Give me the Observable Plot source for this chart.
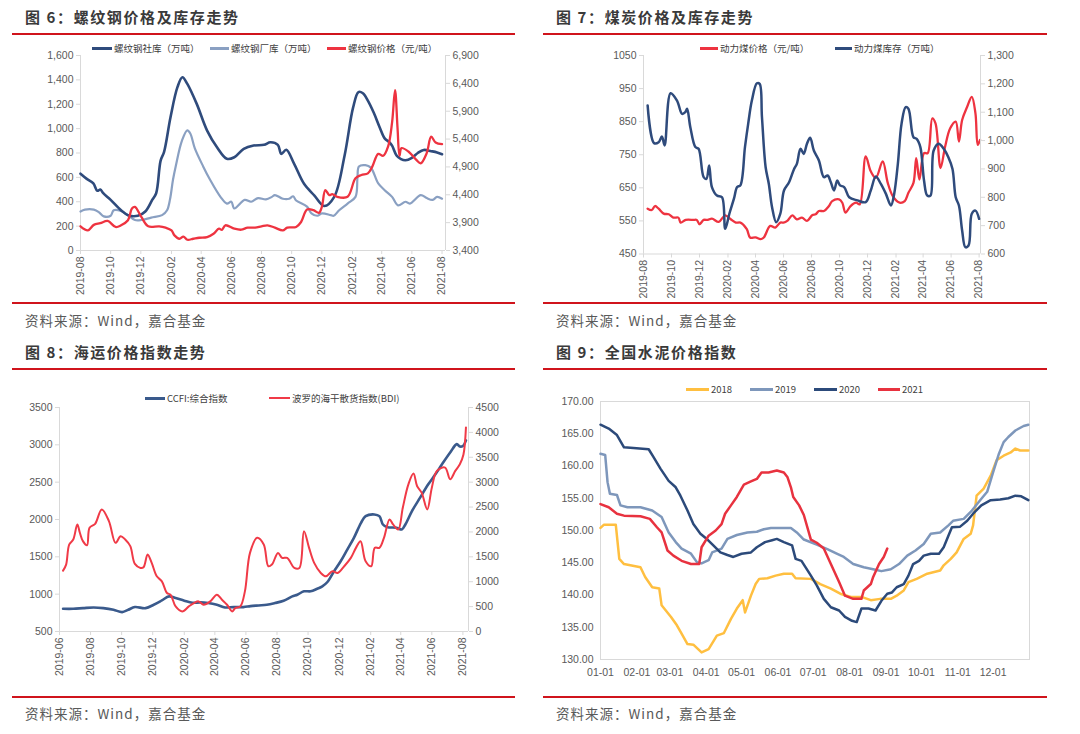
<!DOCTYPE html>
<html><head><meta charset="utf-8">
<script src="https://cdn.jsdelivr.net/npm/d3@7"></script>
<script src="https://cdn.jsdelivr.net/npm/@observablehq/plot@0.6"></script>
<style>
body{margin:0;background:#fff;font-family:"Noto Sans CJK SC","Noto Sans",sans-serif;}
#root{position:relative;width:1080px;height:734px;overflow:hidden;background:#fff}
.title{position:absolute;font-size:15px;font-weight:bold;color:#3a3a3a;letter-spacing:1.6px;white-space:nowrap;line-height:20px}
.rule{position:absolute;height:2px;background:#d0141c}
.source{position:absolute;font-size:13.5px;color:#595959;letter-spacing:1px;white-space:nowrap;line-height:20px}
.lg-sw{position:absolute;height:3px}
.lg-tx{position:absolute;font-size:9.5px;color:#404040;white-space:nowrap;line-height:14px}
.chart{position:absolute}
.chart svg{position:absolute;left:0;top:0;overflow:visible}
</style></head>
<body><div id="root"></div>
<script>
// ---------- Panel 6: rebar ----------
const p1Title = "图 6：螺纹钢价格及库存走势";
const p1Legend = ["螺纹钢社库（万吨）","螺纹钢厂库（万吨）","螺纹钢价格（元/吨）"];
const p1XTicks = ["2019-08","2019-10","2019-12","2020-02","2020-04","2020-06","2020-08","2020-10","2020-12","2021-02","2021-04","2021-06","2021-08"];
const p1LeftTicks = [0,200,400,600,800,1000,1200,1400,1600];
const p1RightTicks = [3400,3900,4400,4900,5400,5900,6400,6900];
const rebarSocial = [["2019-08-01",630],["2019-08-13",590],["2019-08-27",550],["2019-09-04",490],["2019-09-10",500],["2019-09-16",470],["2019-10-01",415],["2019-10-22",330],["2019-11-05",290],["2019-11-25",285],["2019-12-10",320],["2019-12-24",415],["2020-01-01",470],["2020-01-10",738],["2020-01-17",810],["2020-01-30",1094],["2020-02-13",1340],["2020-02-23",1422],["2020-03-04",1367],["2020-03-23",1203],["2020-04-13",984],["2020-05-03",847],["2020-05-23",752],["2020-06-07",765],["2020-06-26",834],["2020-07-16",861],["2020-08-06",867],["2020-08-19",888],["2020-09-03",867],["2020-09-10",793],["2020-09-20",826],["2020-10-06",711],["2020-10-26",547],["2020-11-16",451],["2020-12-06",365],["2020-12-26",440],["2021-01-16",780],["2021-02-02",1170],["2021-02-13",1300],["2021-02-22",1290],["2021-03-04",1230],["2021-03-16",1130],["2021-03-28",1010],["2021-04-07",920],["2021-04-16",890],["2021-04-22",860],["2021-05-01",780],["2021-05-10",750],["2021-05-19",740],["2021-06-01",760],["2021-06-13",800],["2021-06-25",825],["2021-07-10",815],["2021-07-22",805],["2021-08-01",790]];
const rebarFactory = [["2019-08-01",320],["2019-08-10",335],["2019-08-28",335],["2019-09-07",315],["2019-09-17",280],["2019-10-01",285],["2019-10-07",330],["2019-10-22",325],["2019-11-05",290],["2019-11-19",250],["2019-12-02",250],["2019-12-22",270],["2020-01-13",290],["2020-01-23",330],["2020-01-29",420],["2020-02-04",580],["2020-02-10",700],["2020-02-22",900],["2020-03-04",985],["2020-03-10",960],["2020-03-19",840],["2020-04-05",690],["2020-04-19",580],["2020-05-10",440],["2020-05-23",385],["2020-06-01",400],["2020-06-07",345],["2020-06-28",415],["2020-07-11",400],["2020-07-25",430],["2020-08-10",420],["2020-08-22",440],["2020-08-28",455],["2020-09-13",425],["2020-09-26",425],["2020-10-04",445],["2020-10-10",410],["2020-11-01",360],["2020-11-10",305],["2020-11-22",285],["2020-12-01",305],["2020-12-19",290],["2020-12-25",285],["2021-01-05",330],["2021-01-22",385],["2021-02-07",440],["2021-02-11",600],["2021-02-14",690],["2021-02-27",700],["2021-03-10",680],["2021-03-25",550],["2021-04-07",495],["2021-04-22",440],["2021-05-04",370],["2021-05-19",400],["2021-05-28",385],["2021-06-19",455],["2021-07-01",430],["2021-07-13",415],["2021-07-22",440],["2021-08-01",425]];
const rebarPrice = [["2019-08-01",3834],["2019-08-16",3761],["2019-08-28",3860],["2019-09-10",3890],["2019-09-25",3930],["2019-10-11",3822],["2019-10-22",3852],["2019-11-05",3942],["2019-11-13",4153],["2019-11-19",4183],["2019-12-02",4002],["2019-12-16",3834],["2020-01-07",3834],["2020-01-20",3810],["2020-02-01",3761],["2020-02-07",3671],["2020-02-17",3611],["2020-02-25",3650],["2020-03-04",3593],["2020-03-16",3611],["2020-03-28",3629],["2020-04-13",3641],["2020-04-26",3701],["2020-05-07",3792],["2020-05-13",3770],["2020-05-20",3852],["2020-06-07",3792],["2020-06-21",3773],["2020-07-04",3810],["2020-07-19",3810],["2020-08-01",3834],["2020-08-13",3852],["2020-08-28",3810],["2020-09-13",3761],["2020-09-22",3810],["2020-10-10",3822],["2020-10-20",3912],["2020-11-01",4135],["2020-11-14",4123],["2020-11-25",4075],["2020-12-01",4183],["2020-12-08",4484],["2020-12-16",4394],["2020-12-22",4412],["2021-01-01",4364],["2021-01-22",4364],["2021-02-07",4695],["2021-02-19",4755],["2021-03-04",4785],["2021-03-13",4906],["2021-03-25",5135],["2021-04-04",5100],["2021-04-14",5268],["2021-04-22",5700],["2021-04-28",6278],["2021-05-03",5600],["2021-05-07",5100],["2021-05-11",5238],["2021-05-25",5177],["2021-06-10",5026],["2021-06-19",4966],["2021-07-01",5147],["2021-07-10",5442],["2021-07-19",5340],["2021-08-01",5310]];

// ---------- Panel 7: coal ----------
const p2Title = "图 7：煤炭价格及库存走势";
const p2Legend = ["动力煤价格（元/吨）","动力煤库存（万吨）"];
const p2XTicks = p1XTicks;
const p2LeftTicks = [450,550,650,750,850,950,1050];
const p2RightTicks = [600,700,800,900,1000,1100,1200,1300];
const coalPrice = [["2019-08-10",587],["2019-08-19",583],["2019-08-26",595],["2019-09-03",587],["2019-09-14",572],["2019-09-25",570],["2019-10-05",560],["2019-10-16",560],["2019-10-21",545],["2019-11-01",553],["2019-11-18",553],["2019-11-25",553],["2019-12-01",540],["2019-12-10",553],["2019-12-19",553],["2019-12-28",557],["2020-01-12",547],["2020-01-26",567],["2020-02-07",555],["2020-02-18",545],["2020-02-28",545],["2020-03-13",525],["2020-03-20",500],["2020-04-01",500],["2020-04-12",495],["2020-04-19",500],["2020-05-03",535],["2020-05-14",530],["2020-05-25",545],["2020-06-01",545],["2020-06-09",550],["2020-06-20",567],["2020-06-30",555],["2020-07-11",560],["2020-07-22",550],["2020-08-03",568],["2020-08-10",570],["2020-08-17",580],["2020-08-28",580],["2020-09-08",595],["2020-09-15",610],["2020-09-30",615],["2020-10-07",605],["2020-10-14",575],["2020-10-25",595],["2020-11-06",605],["2020-11-14",600],["2020-11-27",745],["2020-12-08",700],["2020-12-19",680],["2021-01-03",730],["2021-01-14",665],["2021-01-25",625],["2021-02-09",605],["2021-02-20",610],["2021-02-28",635],["2021-03-11",665],["2021-03-17",740],["2021-03-24",675],["2021-04-03",755],["2021-04-11",755],["2021-04-21",860],["2021-04-28",845],["2021-05-09",710],["2021-05-19",775],["2021-05-30",830],["2021-06-11",850],["2021-06-18",790],["2021-06-25",855],["2021-07-06",895],["2021-07-16",925],["2021-07-24",875],["2021-07-29",780],["2021-08-03",795]];
const coalStock = [["2019-08-10",1124],["2019-08-24",991],["2019-09-03",994],["2019-09-10",1014],["2019-09-16",983],["2019-09-29",1167],["2019-10-13",1141],["2019-10-24",1094],["2019-10-31",1100],["2019-11-04",1112],["2019-11-11",1047],["2019-11-22",977],["2019-11-29",971],["2019-12-10",871],["2019-12-16",865],["2019-12-22",912],["2019-12-28",836],["2020-01-08",806],["2020-01-19",800],["2020-01-26",689],["2020-02-04",742],["2020-02-14",795],["2020-02-21",836],["2020-02-28",842],["2020-03-09",977],["2020-03-16",1059],["2020-03-24",1141],["2020-04-04",1202],["2020-04-10",1200],["2020-04-15",1083],["2020-04-23",906],["2020-04-30",847],["2020-05-07",765],["2020-05-16",712],["2020-05-25",742],["2020-06-02",824],["2020-06-13",853],["2020-06-24",900],["2020-06-30",918],["2020-07-08",971],["2020-07-15",953],["2020-07-22",989],["2020-07-29",1010],["2020-08-06",965],["2020-08-17",930],["2020-08-28",871],["2020-09-05",877],["2020-09-12",853],["2020-09-19",824],["2020-09-26",859],["2020-10-02",842],["2020-10-11",836],["2020-10-22",800],["2020-11-09",789],["2020-11-27",783],["2020-12-08",824],["2020-12-19",873],["2020-12-30",847],["2021-01-10",812],["2021-01-21",771],["2021-01-28",812],["2021-02-05",918],["2021-02-13",1059],["2021-02-22",1118],["2021-02-28",1112],["2021-03-11",1012],["2021-03-18",1006],["2021-03-26",977],["2021-04-03",859],["2021-04-10",806],["2021-04-17",806],["2021-04-24",965],["2021-05-05",989],["2021-05-16",971],["2021-05-26",941],["2021-06-04",900],["2021-06-11",800],["2021-06-18",771],["2021-06-25",683],["2021-07-02",624],["2021-07-09",630],["2021-07-16",742],["2021-07-24",753],["2021-08-01",724]];

// ---------- Panel 8: shipping ----------
const p3Title = "图 8：海运价格指数走势";
const p3Legend = ["CCFI:综合指数","波罗的海干散货指数(BDI)"];
const p3XTicks = ["2019-06","2019-08","2019-10","2019-12","2020-02","2020-04","2020-06","2020-08","2020-10","2020-12","2021-02","2021-04","2021-06","2021-08"];
const p3LeftTicks = [500,1000,1500,2000,2500,3000,3500];
const p3RightTicks = [0,500,1000,1500,2000,2500,3000,3500,4000,4500];
const ccfi = [["2019-06-08",804],["2019-06-28",804],["2019-07-17",813],["2019-08-07",822],["2019-08-26",813],["2019-09-15",791],["2019-10-02",760],["2019-10-14",791],["2019-10-27",827],["2019-11-17",813],["2019-12-03",858],["2019-12-19",916],["2020-01-02",970],["2020-01-15",948],["2020-02-01",912],["2020-02-17",885],["2020-03-03",890],["2020-03-19",881],["2020-04-05",858],["2020-04-21",822],["2020-05-08",827],["2020-05-27",827],["2020-06-10",840],["2020-06-26",849],["2020-07-12",858],["2020-07-28",881],["2020-08-14",912],["2020-08-31",970],["2020-09-10",993],["2020-09-23",1038],["2020-10-06",1038],["2020-10-19",1073],["2020-10-29",1105],["2020-11-08",1163],["2020-11-21",1306],["2020-12-04",1441],["2020-12-17",1597],["2020-12-30",1754],["2021-01-13",1956],["2021-01-22",2045],["2021-02-08",2068],["2021-02-18",2045],["2021-02-25",1933],["2021-03-05",1898],["2021-03-24",1889],["2021-04-03",1866],["2021-04-10",1933],["2021-04-23",2113],["2021-05-09",2292],["2021-05-25",2471],["2021-06-08",2605],["2021-06-21",2740],["2021-07-07",2897],["2021-07-20",3009],["2021-07-26",2977],["2021-08-01",2985],["2021-08-07",3060]];
const bdi = [["2019-06-08",1223],["2019-06-14",1344],["2019-06-20",1747],["2019-06-28",1848],["2019-07-06",2151],["2019-07-11",1983],["2019-07-17",1815],["2019-07-25",1734],["2019-07-30",2084],["2019-08-10",2164],["2019-08-23",2453],["2019-09-06",2218],["2019-09-19",1781],["2019-09-29",1915],["2019-10-08",1848],["2019-10-18",1714],["2019-10-27",1358],["2019-11-07",1277],["2019-11-13",1290],["2019-11-21",1546],["2019-11-29",1378],["2019-12-09",1109],["2019-12-19",1008],["2019-12-29",773],["2020-01-05",739],["2020-01-15",504],["2020-01-28",403],["2020-02-10",504],["2020-02-20",571],["2020-02-29",605],["2020-03-10",538],["2020-03-23",605],["2020-04-05",739],["2020-04-15",638],["2020-04-25",538],["2020-05-05",403],["2020-05-11",470],["2020-05-21",504],["2020-05-30",806],["2020-06-09",1579],["2020-06-23",1882],["2020-07-06",1747],["2020-07-15",1311],["2020-07-22",1344],["2020-08-03",1579],["2020-08-11",1479],["2020-08-21",1479],["2020-09-04",1277],["2020-09-14",1277],["2020-09-23",2016],["2020-10-03",1680],["2020-10-13",1378],["2020-10-26",1176],["2020-11-05",1109],["2020-11-18",1210],["2020-11-28",1176],["2020-12-11",1311],["2020-12-24",1479],["2021-01-03",1680],["2021-01-12",1815],["2021-01-22",1411],["2021-02-02",1311],["2021-02-09",1680],["2021-02-18",1680],["2021-02-27",1882],["2021-03-10",2251],["2021-03-17",2151],["2021-03-27",2050],["2021-04-05",2487],["2021-04-16",2957],["2021-04-26",3172],["2021-05-03",2923],["2021-05-12",2789],["2021-05-23",2453],["2021-06-01",2890],["2021-06-11",3226],["2021-06-27",3293],["2021-07-07",3058],["2021-07-17",3226],["2021-07-26",3360],["2021-08-02",3550],["2021-08-07",4100]];

// ---------- Panel 9: cement (MM-DD) ----------
const p4Title = "图 9：全国水泥价格指数";
const p4Years = ["2018","2019","2020","2021"];
const p4XTicks = ["01-01","02-01","03-01","04-01","05-01","06-01","07-01","08-01","09-01","10-01","11-01","12-01"];
const p4YTicks = [130,135,140,145,150,155,160,165,170];
const cement2018 = [["01-01",150.4],["01-04",150.9],["01-14",150.9],["01-17",145.6],["01-21",144.8],["02-04",144.3],["02-08",142.8],["02-14",141.2],["02-20",141.0],["02-22",138.4],["03-02",136.6],["03-07",135.3],["03-11",134.0],["03-16",132.4],["03-21",132.3],["03-28",131.1],["04-03",131.6],["04-10",133.7],["04-16",134.1],["04-22",136.3],["04-27",137.9],["05-02",139.2],["05-04",137.3],["05-09",139.9],["05-13",141.7],["05-16",142.5],["05-23",142.6],["05-30",143.0],["06-06",143.3],["06-13",143.3],["06-16",142.6],["06-29",142.5],["07-07",141.7],["07-16",141.0],["07-24",140.2],["08-02",139.7],["08-11",139.7],["08-19",139.2],["08-27",139.4],["09-05",139.4],["09-10",139.9],["09-16",140.7],["09-20",142.0],["09-27",142.5],["10-06",143.3],["10-17",143.8],["10-20",144.6],["10-26",145.6],["10-31",146.6],["11-06",148.7],["11-12",149.5],["11-14",150.8],["11-17",155.4],["11-23",156.5],["11-29",158.5],["12-04",160.9],["12-10",161.6],["12-16",162.1],["12-20",162.7],["12-24",162.4],["12-31",162.4]];
const cement2019 = [["01-01",161.9],["01-05",161.7],["01-07",157.5],["01-09",155.7],["01-15",155.5],["01-18",153.9],["01-24",153.6],["02-04",153.6],["02-14",153.1],["02-18",152.6],["02-22",152.1],["02-28",149.7],["03-06",148.2],["03-11",147.2],["03-19",146.4],["03-24",145.1],["03-28",144.9],["04-03",145.4],["04-06",146.6],["04-14",147.2],["04-19",148.7],["04-27",149.3],["05-06",149.7],["05-14",149.8],["05-20",150.2],["05-26",150.4],["06-03",150.4],["06-12",150.4],["06-17",149.7],["06-23",148.6],["07-04",147.8],["07-13",147.1],["07-21",146.4],["07-27",145.9],["08-04",144.8],["08-13",144.3],["08-21",144.0],["08-28",143.7],["09-05",144.0],["09-12",144.8],["09-19",146.1],["09-26",146.9],["10-03",147.9],["10-09",149.5],["10-17",149.7],["10-24",150.8],["10-28",151.5],["11-06",151.8],["11-13",153.1],["11-20",154.7],["11-26",156.0],["12-01",159.0],["12-06",161.9],["12-10",163.7],["12-14",164.5],["12-20",165.5],["12-27",166.2],["12-31",166.4]];
const cement2020 = [["01-01",166.4],["01-08",165.8],["01-15",164.8],["01-21",162.9],["01-29",162.8],["02-11",162.6],["02-15",161.4],["02-21",159.6],["02-28",157.7],["03-06",156.7],["03-10",155.4],["03-16",153.1],["03-21",151.0],["03-27",149.5],["04-02",148.6],["04-07",147.7],["04-13",146.6],["04-19",146.2],["04-24",145.9],["05-01",146.4],["05-09",146.6],["05-14",147.4],["05-21",148.2],["05-27",148.5],["05-31",148.7],["06-06",148.2],["06-13",147.7],["06-16",145.6],["06-21",145.3],["06-29",143.0],["07-04",141.5],["07-10",139.4],["07-16",138.1],["07-23",137.6],["07-28",136.6],["08-03",136.0],["08-07",135.8],["08-11",137.9],["08-17",137.9],["08-23",137.6],["08-28",139.1],["09-02",140.2],["09-06",140.4],["09-10",141.2],["09-16",141.7],["09-20",143.0],["09-24",144.8],["09-29",145.3],["10-03",146.1],["10-09",146.4],["10-16",146.4],["10-20",147.4],["10-24",149.2],["10-27",150.5],["11-03",150.6],["11-09",151.5],["11-14",152.6],["11-21",153.9],["11-29",154.7],["12-07",154.8],["12-14",155.0],["12-20",155.4],["12-25",155.3],["12-31",154.7]];
const cement2021 = [["01-01",154.1],["01-08",153.6],["01-15",152.6],["01-21",152.3],["02-04",152.2],["02-12",151.8],["02-18",150.5],["02-22",149.7],["02-27",146.9],["03-04",146.1],["03-11",145.3],["03-19",144.8],["03-26",144.8],["03-28",147.4],["04-03",149.2],["04-09",150.0],["04-14",151.0],["04-17",152.6],["04-22",153.9],["04-27",155.2],["05-03",157.1],["05-09",157.6],["05-14",158.0],["05-18",159.0],["05-24",159.0],["05-31",159.3],["06-06",159.0],["06-09",158.3],["06-12",156.7],["06-14",155.2],["06-19",153.9],["06-23",152.4],["06-29",148.6],["07-04",148.1],["07-10",147.2],["07-16",144.8],["07-23",142.0],["07-28",139.9],["08-04",139.4],["08-11",139.4],["08-13",140.7],["08-19",141.7],["08-21",142.8],["08-26",144.8],["08-30",145.9],["09-02",147.2]];

const sourceText = "资料来源：Wind，嘉合基金";

// ---------- helpers ----------
const root = document.getElementById("root");
function el(cls, css, text) {
  const d = document.createElement("div");
  d.className = cls; Object.assign(d.style, css);
  if (text != null) d.textContent = text;
  root.appendChild(d); return d;
}
function frameDecor(x, title, topY) {
  el("title", {left:(x+25)+"px", top:(topY-10)+"px"}, title);
}
function legendItem(x1, x2, y, color, label, h) {
  el("lg-sw", {left:x1+"px", top:(y-(h||3)/2)+"px", width:(x2-x1)+"px", height:(h||3)+"px", background:color});
  el("lg-tx", {left:(x2+2)+"px", top:(y-7)+"px"}, label);
}
const parseYM = s => new Date(s.length === 7 ? s + "-01" : s);
const toRows = arr => arr.map(([d, v]) => ({date: parseYM(d), value: v}));
const toRowsMD = arr => arr.map(([d, v]) => ({date: new Date("2021-" + d), value: v}));

const AXIS_TXT = "#595959", AXIS_LN = "#d9d9d9";
const FONT = "'Liberation Sans', Arial, sans-serif";

function dualChart(o) {
  const host = el("chart", {left:o.left+"px", top:o.top+"px", width:o.w+"px", height:o.h+"px"});
  const base = {
    width:o.w, height:o.h, marginTop:o.mt, marginBottom:o.mb, marginLeft:o.ml, marginRight:o.mr,
    style:{background:"transparent", color:AXIS_TXT, fontSize:"10.5px", fontFamily:FONT, overflow:"visible"}
  };
  const xTicks = o.xTicks.map(parseYM);
  const pL = Plot.plot({...base,
    x:{type:"utc", domain:o.xDomain},
    y:{domain:o.yL},
    marks:[
      Plot.ruleX([o.xDomain[0]], {stroke:AXIS_LN}),
      Plot.ruleY([o.yL[0]], {stroke:AXIS_LN}),
      Plot.axisY({anchor:"left", ticks:o.yLTicks, tickFormat:o.fmtL, tickSize:4, tickPadding:3, stroke:AXIS_LN, fill:AXIS_TXT, label:null}),
      Plot.axisX({ticks:xTicks, tickFormat:d3.utcFormat("%Y-%m"), tickRotate:-90, tickSize:4, tickPadding:2, stroke:AXIS_LN, fill:AXIS_TXT, label:null}),
      ...o.linesL.map(s => Plot.line(s.data, {x:"date", y:"value", stroke:s.color, strokeWidth:s.width, curve:"catmull-rom"}))
    ]});
  const pR = Plot.plot({...base,
    x:{type:"utc", domain:o.xDomain, axis:null},
    y:{domain:o.yR, axis:null},
    marks:[
      Plot.ruleX([o.xDomain[1]], {stroke:AXIS_LN}),
      Plot.axisY({anchor:"right", ticks:o.yRTicks, tickFormat:o.fmtR, tickSize:4, tickPadding:3, stroke:AXIS_LN, fill:AXIS_TXT, label:null}),
      ...o.linesR.map(s => Plot.line(s.data, {x:"date", y:"value", stroke:s.color, strokeWidth:s.width, curve:"catmull-rom"}))
    ]});
  host.appendChild(pL); host.appendChild(pR);
}

const RED = "#ee3340", NAVY = "#2f4b7c", LIGHT = "#8aa0c2";

// ----- Panel 6 -----
frameDecor(0, p1Title, 17);
el("rule", {left:"12px", top:"33px", width:"503px"});
legendItem(92, 112, 48, NAVY, p1Legend[0]);
legendItem(210, 229, 48, LIGHT, p1Legend[1]);
legendItem(327, 346, 48, RED, p1Legend[2]);
dualChart({left:0, top:40, w:540, h:265, mt:15, mb:55, ml:80, mr:95,
  xDomain:[new Date("2019-08-01"), new Date("2021-08-08")], xTicks:p1XTicks,
  yL:[0,1600], yR:[3400,6900], yLTicks:p1LeftTicks, yRTicks:p1RightTicks,
  fmtL:d3.format(","), fmtR:d3.format(","),
  linesL:[{data:toRows(rebarFactory), color:LIGHT, width:2.2},{data:toRows(rebarSocial), color:NAVY, width:2.6}],
  linesR:[{data:toRows(rebarPrice), color:RED, width:2.3}]});
el("rule", {left:"12px", top:"302px", width:"503px"});
el("source", {left:"25px", top:"310px"}, sourceText);

// ----- Panel 7 -----
frameDecor(531, p2Title, 17);
el("rule", {left:"543px", top:"33px", width:"504px"});
legendItem(700, 718, 48, RED, p2Legend[0]);
legendItem(835, 852, 48, NAVY, p2Legend[1]);
dualChart({left:540, top:40, w:540, h:265, mt:15, mb:51.5, ml:103, mr:100,
  xDomain:[new Date("2019-08-01"), new Date("2021-08-04")], xTicks:p2XTicks,
  yL:[450,1050], yR:[600,1300], yLTicks:p2LeftTicks, yRTicks:p2RightTicks,
  fmtL:d3.format("d"), fmtR:d3.format(","),
  linesL:[{data:toRows(coalPrice), color:RED, width:2.3}],
  linesR:[{data:toRows(coalStock), color:NAVY, width:2.5}]});
el("rule", {left:"543px", top:"302px", width:"504px"});
el("source", {left:"556px", top:"310px"}, sourceText);

// ----- Panel 8 -----
frameDecor(0, p3Title, 352);
el("rule", {left:"12px", top:"368px", width:"503px"});
legendItem(145, 165, 398, "#3a5a8c", p3Legend[0]);
legendItem(269, 290, 398, "#f03a47", p3Legend[1], 2);
dualChart({left:0, top:395, w:540, h:300, mt:12, mb:64, ml:59, mr:72,
  xDomain:[new Date("2019-06-01"), new Date("2021-08-12")], xTicks:p3XTicks,
  yL:[500,3500], yR:[0,4500], yLTicks:p3LeftTicks, yRTicks:p3RightTicks,
  fmtL:d3.format("d"), fmtR:d3.format("d"),
  linesL:[{data:toRows(ccfi), color:"#3a5a8c", width:2.6}],
  linesR:[{data:toRows(bdi), color:"#f03a47", width:2}]});
el("rule", {left:"12px", top:"696px", width:"503px"});
el("source", {left:"25px", top:"703px"}, sourceText);

// ----- Panel 9 -----
frameDecor(531, p4Title, 352);
el("rule", {left:"543px", top:"368px", width:"504px"});
const p4Colors = ["#ffbf40","#7e97bb","#2c4a7a","#e8323f"];
const p4LegendX = [[686,709],[750,773],[814,837],[878,900]];
p4Years.forEach((yr, i) => legendItem(p4LegendX[i][0], p4LegendX[i][1], 389, p4Colors[i], yr));
{
  const host = el("chart", {left:"540px", top:"395px", width:"540px", height:"300px"});
  const cementSeries = [cement2018, cement2019, cement2020, cement2021];
  const p = Plot.plot({
    width:540, height:300, marginTop:6, marginBottom:36, marginLeft:60, marginRight:51,
    style:{background:"transparent", color:AXIS_TXT, fontSize:"10.5px", fontFamily:FONT, overflow:"visible"},
    x:{type:"utc", domain:[new Date("2021-01-01"), new Date("2022-01-01")]},
    y:{domain:[130,170]},
    marks:[
      Plot.frame({stroke:AXIS_LN}),
      Plot.axisY({ticks:p4YTicks, tickFormat:d3.format(".2f"), tickSize:0, tickPadding:7, fill:AXIS_TXT, label:null}),
      Plot.axisX({ticks:p4XTicks.map(d => new Date("2021-" + d)), tickFormat:d3.utcFormat("%m-%d"), tickSize:0, tickPadding:9, fill:AXIS_TXT, label:null}),
      ...cementSeries.map((s, i) => Plot.line(toRowsMD(s), {x:"date", y:"value", stroke:p4Colors[i], strokeWidth:2.5}))
    ]});
  host.appendChild(p);
}
el("rule", {left:"543px", top:"696px", width:"504px"});
el("source", {left:"556px", top:"703px"}, sourceText);
</script>
</body></html>
